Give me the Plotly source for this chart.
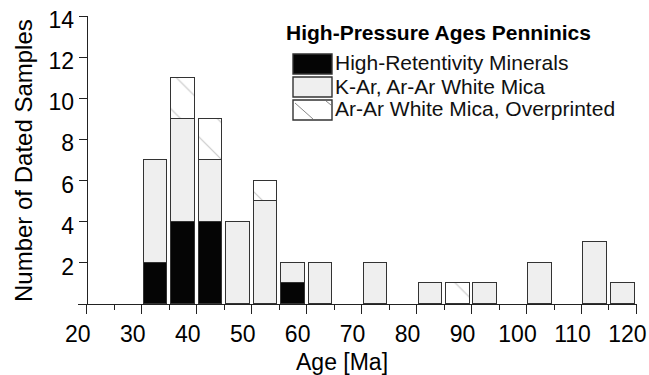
import plotly.graph_objects as go

# ---- data ----
age_bins = [32.5, 37.5, 42.5, 47.5, 52.5, 57.5, 62.5, 72.5, 82.5, 87.5, 92.5, 102.5, 112.5, 117.5]
high_retentivity = [2, 4, 4, 0, 0, 1, 0, 0, 0, 0, 0, 0, 0, 0]
kar_arar_white_mica = [5, 5, 3, 4, 5, 1, 2, 2, 1, 0, 1, 2, 3, 1]
arar_overprinted = [0, 2, 2, 0, 1, 0, 0, 0, 0, 1, 0, 0, 0, 0]
x_ticks = [20, 30, 40, 50, 60, 70, 80, 90, 100, 110, 120]
y_ticks = [2, 4, 6, 8, 10, 12, 14]

series_names = ["High-Retentivity Minerals", "K-Ar, Ar-Ar White Mica", "Ar-Ar White Mica, Overprinted"]
legend_title = "High-Pressure Ages Penninics"

FONT = "Liberation Sans, Arial, Helvetica, sans-serif"
W, H = 649, 375
ML, MR, MT, MB = 78, 12, 16, 71
PW, PH = W - ML - MR, H - MT - MB
XR = [18.4, 120.1]


def nz(v):
    return [a if a else None for a in v]


def px(x):
    return (x - ML) / PW


def py(y):
    return (H - MB - y) / PH


line = dict(color="#333333", width=1.4)
bw = 4.3

fig = go.Figure()
fig.add_bar(x=age_bins, y=nz(high_retentivity), width=bw, name=series_names[0],
            marker=dict(color="#050505", line=line))
fig.add_bar(x=age_bins, y=nz(kar_arar_white_mica), width=bw, name=series_names[1],
            marker=dict(color="#efefef", line=line))
fig.add_bar(x=age_bins, y=nz(arar_overprinted), width=bw, name=series_names[2],
            marker=dict(color="white", line=line,
                        pattern=dict(shape="\\", size=26, solidity=0.04,
                                     fgcolor="#888888", bgcolor="white")))

# ---- custom legend ----
shapes = []
annotations = []
box_x0, box_x1 = 293, 332
rows = [(54, 74), (77, 97), (100, 120)]
fills = ["#050505", "#efefef", "white"]
for (y0, y1), fc, name in zip(rows, fills, series_names):
    shapes.append(dict(type="rect", xref="paper", yref="paper",
                       x0=px(box_x0), x1=px(box_x1), y0=py(y1), y1=py(y0),
                       fillcolor=fc, line=dict(color="#333333", width=1.4)))
    annotations.append(dict(xref="paper", yref="paper", x=px(333), y=py((y0 + y1) / 2 - 1),
                            text=name, showarrow=False, xanchor="left", yanchor="middle",
                            font=dict(family=FONT, size=21, color="#111111")))
# hatch lines inside the overprinted legend box
y0, y1 = rows[2]
shapes.append(dict(type="line", xref="paper", yref="paper",
                   x0=px(box_x0 + 2), y0=py(y0 + 3), x1=px(box_x0 + 20), y1=py(y1 - 1),
                   line=dict(color="#888888", width=1)))
shapes.append(dict(type="line", xref="paper", yref="paper",
                   x0=px(box_x1 - 6), y0=py(y0 + 1), x1=px(box_x1 - 1), y1=py(y0 + 5),
                   line=dict(color="#888888", width=1)))

annotations.append(dict(xref="paper", yref="paper", x=px(284), y=py(32),
                        text="<b>" + legend_title + "</b>", showarrow=False,
                        xanchor="left", yanchor="middle",
                        font=dict(family=FONT, size=21, color="#000000")))

# axis titles
annotations.append(dict(xref="paper", yref="paper", x=px(23), y=py(161),
                        text="Number of Dated Samples", textangle=-90, showarrow=False,
                        xanchor="center", yanchor="middle",
                        font=dict(family=FONT, size=24, color="#000000")))
annotations.append(dict(xref="paper", yref="paper", x=px(342), y=py(362),
                        text="Age [Ma]", showarrow=False,
                        xanchor="center", yanchor="middle",
                        font=dict(family=FONT, size=23, color="#000000")))

fig.update_layout(
    width=W, height=H,
    margin=dict(l=ML, r=MR, t=MT, b=MB, autoexpand=False),
    paper_bgcolor="white", plot_bgcolor="white",
    barmode="stack", bargap=0, showlegend=False,
    shapes=shapes, annotations=annotations,
    xaxis=dict(range=XR, tickvals=x_ticks, ticks="outside", ticklen=9, tickwidth=1.4,
               tickcolor="#222", showline=True, linecolor="#222", linewidth=1.4,
               showgrid=False, zeroline=False, ticklabelshift=-9,
               ticklabeloverflow="allow", automargin=False,
               tickfont=dict(family=FONT, size=23, color="#000"),
               minor=dict(tickvals=[x + 5 for x in x_ticks[:-1]], ticks="outside",
                          ticklen=5, tickwidth=1.4, tickcolor="#222", showgrid=False)),
    yaxis=dict(range=[0, 14], tickvals=y_ticks, ticks="outside", ticklen=8, tickwidth=1.4,
               tickcolor="#222", showline=True, linecolor="#222", linewidth=1.4,
               showgrid=False, zeroline=False, anchor="free", ticklabelshift=4,
               ticklabeloverflow="allow", automargin=False,
               position=(20 - XR[0]) / (XR[1] - XR[0]),
               tickfont=dict(family=FONT, size=23, color="#000")),
)

fig.write_html("out.html")
